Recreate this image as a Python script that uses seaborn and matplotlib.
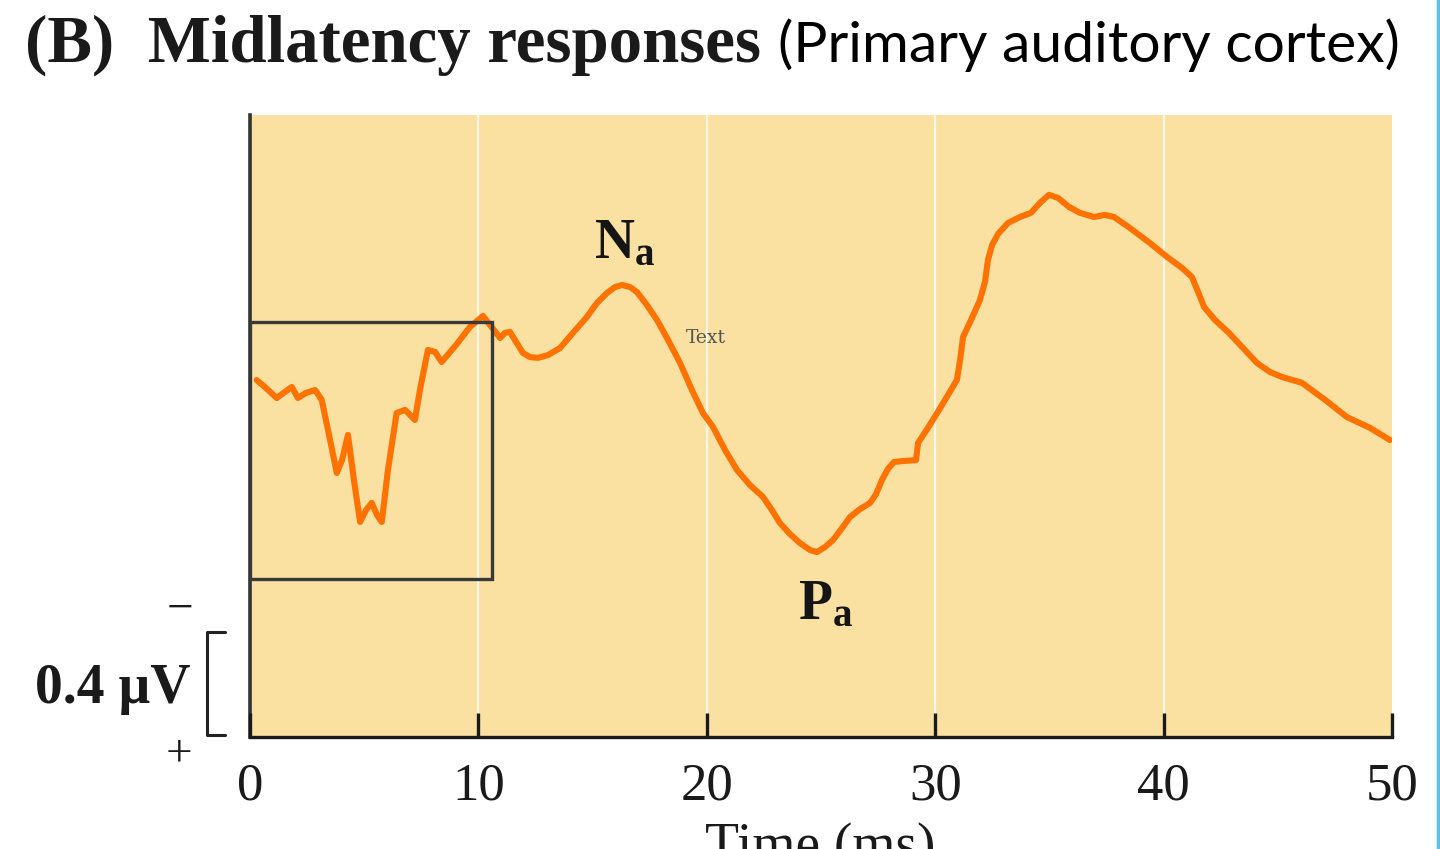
import numpy as np
import pandas as pd
import seaborn as sns
import matplotlib.pyplot as plt
from matplotlib.lines import Line2D
from matplotlib.patches import Rectangle

# waveform: time in ms, potential in uV (negative is drawn upward)
time_ms = [0.29, 0.70, 1.17, 1.53, 1.83, 2.10, 2.45, 2.85, 3.14, 3.46, 3.80, 4.03,
           4.29, 4.55, 4.82, 5.08, 5.33, 5.56, 5.77, 6.04, 6.42, 6.79, 7.22, 7.44,
           7.79, 8.10, 8.39, 9.02, 9.63, 10.20,
           10.95, 11.16, 11.38, 11.65, 11.95, 12.26, 12.61, 13.05, 13.57, 14.14,
           14.75, 15.19, 15.63, 15.98, 16.29, 16.64, 16.94, 17.38, 17.82, 18.30,
           18.83, 19.35, 19.83, 20.27, 20.80, 21.32, 21.89, 22.46, 22.85, 23.20,
           23.64, 24.08, 24.52, 24.82, 25.18, 25.53, 25.92, 26.27, 26.71, 27.15,
           27.41, 27.67, 27.93, 28.20, 28.68, 29.16, 29.25, 29.68, 30.17, 30.56,
           30.95, 31.09, 31.22, 31.61, 31.96, 32.18, 32.31, 32.49, 32.75, 33.19,
           33.71, 34.19, 34.59, 34.98, 35.38, 35.86, 36.34, 36.95, 37.43, 37.83,
           38.53, 39.40, 40.15, 40.81, 41.24, 41.51, 41.77, 42.25, 42.86, 43.48,
           44.09, 44.66, 45.18, 46.06, 47.07, 48.03, 49.04, 49.91]
potential_uv = [-0.194, -0.163, -0.124, -0.148, -0.167, -0.124, -0.144, -0.155, -0.117,
                0.019, 0.167, 0.117, 0.019, 0.194, 0.357, 0.311, 0.283, 0.330, 0.357,
                0.155, -0.066, -0.078, -0.039, -0.155, -0.311, -0.303, -0.264, -0.330,
                -0.400, -0.443,
                -0.357, -0.377, -0.381, -0.342, -0.299, -0.283, -0.280, -0.291, -0.318,
                -0.377, -0.439, -0.493, -0.532, -0.555, -0.563, -0.555, -0.536, -0.485,
                -0.427, -0.350, -0.260, -0.155, -0.066, -0.012, 0.078, 0.155, 0.214,
                0.260, 0.311, 0.361, 0.404, 0.439, 0.466, 0.474, 0.454, 0.427, 0.381,
                0.338, 0.307, 0.283, 0.249, 0.194, 0.151, 0.124, 0.120, 0.117, 0.050,
                -0.008, -0.078, -0.136, -0.194, -0.272, -0.361, -0.435, -0.505, -0.575,
                -0.660, -0.718, -0.761, -0.804, -0.827, -0.843, -0.882, -0.913, -0.901,
                -0.866, -0.843, -0.827, -0.835, -0.827, -0.784, -0.726, -0.672, -0.629,
                -0.594, -0.536, -0.478, -0.427, -0.377, -0.318, -0.260, -0.225, -0.206,
                -0.183, -0.117, -0.050, -0.008, 0.039]

x_ticks = [0, 10, 20, 30, 40, 50]
grid_ms = [10, 20, 30, 40]
y_limits = (1.192, -1.223)

# inset box around the early (brainstem) part of the trace
box_ms = (0.0, 10.6)
box_uv = (-0.419, 0.579)

peak_names = [r"$\mathbf{N_a}$", r"$\mathbf{P_a}$"]
peak_ms = [16.4, 25.2]
peak_uv = [-0.72, 0.68]

scale_uv = 0.4
scale_top_uv = 0.784

df = pd.DataFrame({"time": time_ms, "potential": potential_uv})

sns.set_theme(style="white")
plt.rcParams["font.family"] = ["Liberation Serif", "DejaVu Serif"]
plt.rcParams["mathtext.fontset"] = "custom"
plt.rcParams["mathtext.rm"] = "Liberation Serif"
plt.rcParams["mathtext.bf"] = "Liberation Serif:bold"

W, H = 1440, 849
fig = plt.figure(figsize=(W / 100, H / 100), dpi=100, facecolor="white")
ax = fig.add_axes([250 / W, 112 / H, 1142 / W, 622 / H])
ax.set_facecolor("#FAE1A2")
ax.set_axisbelow(False)

# white gridlines sit under the ticks
for g in grid_ms:
    ax.axvline(g, color="#FFF8E6", lw=1.6, zorder=0.3)

sns.lineplot(data=df, x="time", y="potential", ax=ax, color="#FF7200",
             lw=4.4, zorder=3, solid_capstyle="round", solid_joinstyle="round")

ax.add_patch(Rectangle((box_ms[0], box_uv[0]), box_ms[1] - box_ms[0],
                       box_uv[1] - box_uv[0], fill=False, ec="#3A3A3A",
                       lw=2.4, zorder=4))

ax.set_xlim(0, 50)
ax.set_ylim(*y_limits)
ax.set_xticks(x_ticks)
ax.set_yticks([])
ax.set_xlabel("")
ax.set_ylabel("")
ax.tick_params(axis="x", bottom=True, direction="in", length=17, width=2.4,
               color="#1A1A1A", labelsize=38, pad=18, labelcolor="#1A1A1A")

for side in ["top", "right"]:
    ax.spines[side].set_visible(False)
ax.spines["bottom"].set_color("#1A1A1A")
ax.spines["bottom"].set_linewidth(2.4)
ax.spines["left"].set_color("#333333")
ax.spines["left"].set_linewidth(2.6)

for name, px, py in zip(peak_names, peak_ms, peak_uv):
    ax.text(px, py, name, fontsize=40, ha="center", va="center", color="#151515")

ax.text(19.1, -0.357, "Text", fontsize=13.5, family="DejaVu Serif",
        color="#555555", va="center", ha="left")

# scale bar (0.4 uV) drawn outside the axes
sx0, sx1 = -1.88, -1.09
ax.plot([sx1, sx0, sx0, sx1],
        [scale_top_uv, scale_top_uv, scale_top_uv + scale_uv, scale_top_uv + scale_uv],
        color="#222222", lw=2.2, clip_on=False)
ax.text(-2.6, scale_top_uv + scale_uv / 2 + 0.02, "0.4 \u00b5V", ha="right", va="center",
        fontsize=40, fontweight="bold", color="#1A1A1A")
ax.text(-3.05, 0.70, "\u2212", ha="center", va="center", fontsize=34, color="#1A1A1A")
ax.text(-3.1, 1.26, "+", ha="center", va="center", fontsize=34, color="#1A1A1A")

# title in two fonts, scaled to the widths in the figure
t1 = fig.text(25 / W, 1 - 62 / H, "(B)  Midlatency responses", fontsize=46,
              fontweight="bold", color="#1A1A1A", va="baseline")
t2 = fig.text(1400 / W, 1 - 62 / H, "(Primary auditory cortex)", fontsize=40,
              family="Lato", color="black", va="baseline", ha="right")
fig.canvas.draw()
renderer = fig.canvas.get_renderer()
for t, target in [(t1, 735), (t2, 622)]:
    w = t.get_window_extent(renderer).width
    t.set_fontsize(t.get_fontsize() * target / w)

# x label, cut by the bottom edge as in the original
fig.text(820 / W, 1 - 822 / H, "Time (ms)", ha="center", va="top", fontsize=40,
         color="#1A1A1A")

fig.add_artist(Line2D([1437.5 / W, 1437.5 / W], [0, 1], color="#5BC0E8", lw=2.5))

fig.savefig("out.png", dpi=100, facecolor="white")
